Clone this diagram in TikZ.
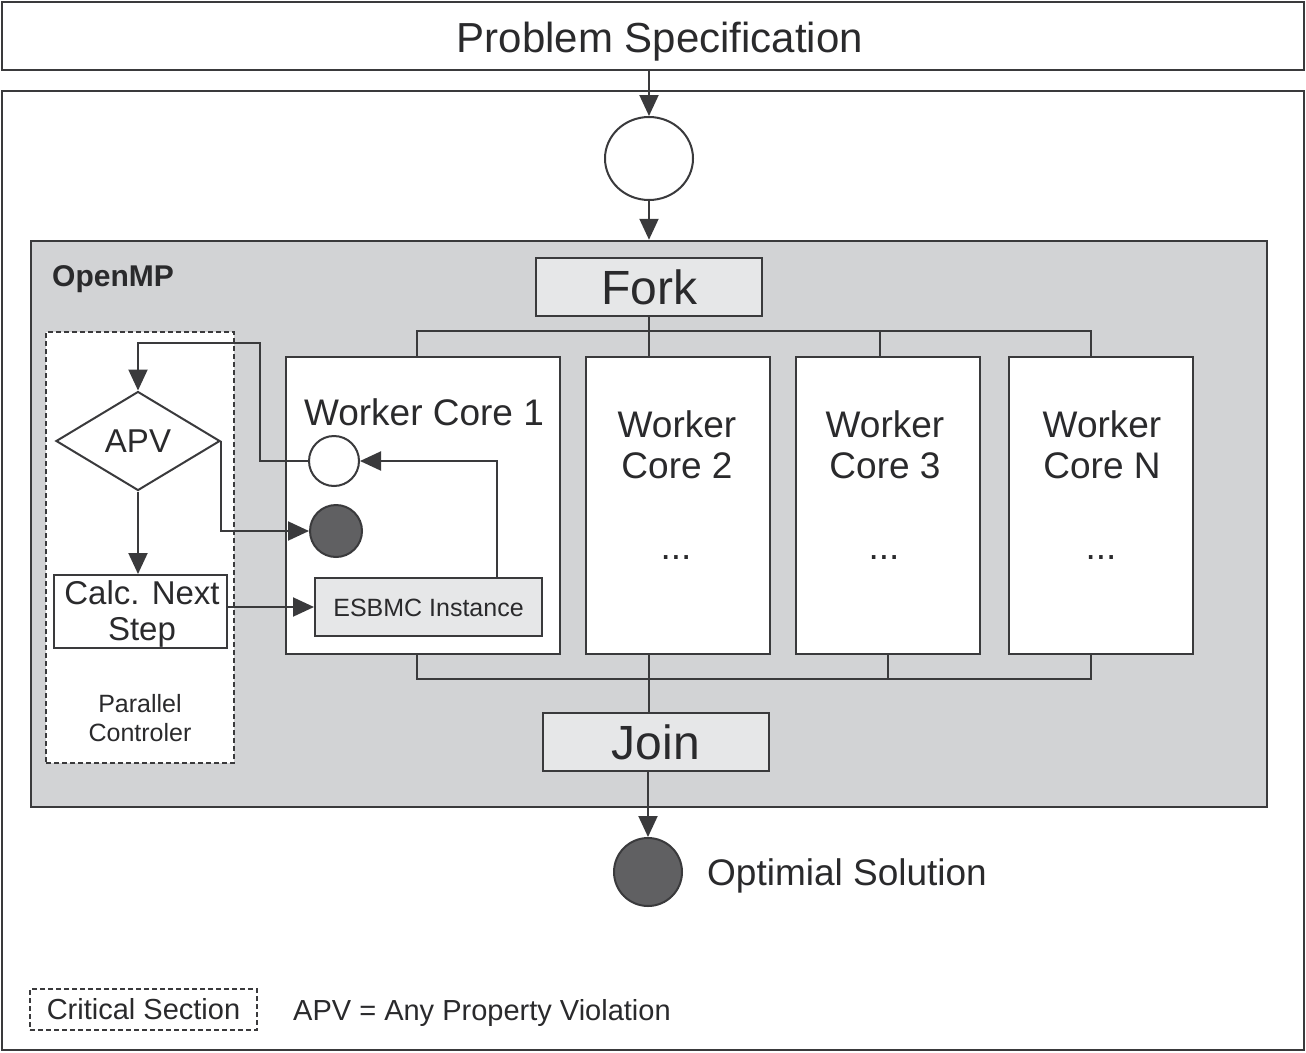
\documentclass[tikz,border=0pt]{standalone}
\usepackage{fontspec}
\setmainfont{Liberation Sans}
\usetikzlibrary{arrows.meta,shapes.geometric}
\definecolor{ln}{HTML}{3A3A3C}
\definecolor{txt}{HTML}{2A2A2C}
\definecolor{omp}{HTML}{D2D3D5}
\definecolor{lite}{HTML}{E6E7E8}
\definecolor{dark}{HTML}{606062}
\tikzset{
  box/.style={draw=ln, line width=2pt, inner sep=0pt, text=txt, align=center},
  frame/.style={draw=ln, line width=2.5pt, inner sep=0pt},
  wire/.style={draw=ln, line width=2pt},
  arr/.style={wire, -{Triangle[length=21pt,width=19pt]}},
  dash box/.style={draw=ln, line width=1.6pt, dash pattern=on 5pt off 3pt, inner sep=0pt, text=txt, align=center},
  lbl/.style={inner sep=0pt, text=txt, align=center},
  capc/.style={text height=#1, text depth=0pt},
  f42/.style={font=\fontsize{42}{46}\selectfont, capc=30pt},
  f48/.style={font=\fontsize{48}{52}\selectfont, capc=34.5pt},
  f37/.style={font=\fontsize{37}{41}\selectfont},
  f33/.style={font=\fontsize{33}{36}\selectfont},
  f29/.style={font=\fontsize{29}{32}\selectfont, capc=20.8pt},
  f25/.style={font=\fontsize{25}{29}\selectfont},
}
\begin{document}
\begin{tikzpicture}[x=1pt,y=-1pt]
\useasboundingbox (0,0) rectangle (1306,1052);
% frames
\node[frame, fill=white, minimum width=1302pt, minimum height=959pt] (main) at (653,570.5) {};
\node[frame, fill=white, minimum width=1302pt, minimum height=68pt] (spec) at (653,36) {};
\node[lbl, f42] (spect) at (660,37) {Problem Specification};
\node[frame, fill=omp, minimum width=1236pt, minimum height=566pt] (omp) at (649,524) {};
\node[lbl, capc=21.5pt, anchor=west, font=\fontsize{30}{34}\selectfont\bfseries] (ompl) at (52,276) {OpenMP};

% start circle
\node[draw=ln, line width=2pt, fill=white, ellipse, minimum width=88pt, minimum height=83pt, inner sep=0pt] (start) at (649,158.5) {};
\draw[arr] (spec.south -| start.north) -- (start.north);
\draw[arr] (start.south) -- (start.south |- omp.north);

% fork
\node[box, fill=lite, minimum width=226pt, minimum height=58pt, f48] (fork) at (649,287) {Fork};

% workers
\node[box, fill=white, minimum width=274pt, minimum height=297pt] (w1) at (423,505.5) {};
\node[box, fill=white, minimum width=184pt, minimum height=297pt] (w2) at (678,505.5) {};
\node[box, fill=white, minimum width=184pt, minimum height=297pt] (w3) at (888,505.5) {};
\node[box, fill=white, minimum width=184pt, minimum height=297pt] (wN) at (1101,505.5) {};

\node[lbl, f37] (w1t) at (424,412) {Worker Core 1};
\node[lbl, f37] (w2t) at (677,445) {Worker\\Core 2};
\node[lbl, f37] (w3t) at (885,445) {Worker\\Core 3};
\node[lbl, f37] (wNt) at (1102,445) {Worker\\Core N};
\node[lbl, f37] (w2d) at (676,558) {...};
\node[lbl, f37] (w3d) at (884,558) {...};
\node[lbl, f37] (wNd) at (1101,558) {...};

% fork bus
\coordinate (fbL) at (417,331);
\coordinate (fbR) at (1091,331);
\coordinate (fb3) at (880,331);
\draw[wire] (fork.south) -- (fork.south |- fbL);
\draw[wire] (w1.north -| fbL) -- (fbL) -- (fbR) -- (wN.north -| fbR);
\draw[wire] (fork.south |- fbL) -- (fork.south |- w2.north);
\draw[wire] (fb3) -- (w3.north -| fb3);

% join
\node[box, fill=lite, minimum width=226pt, minimum height=58pt, f48] (join) at (656,742) {Join};
\coordinate (jbL) at (417,679);
\coordinate (jbR) at (1091,679);
\coordinate (jbM) at (649,679);
\coordinate (jb3) at (888,679);
\draw[wire] (w1.south -| jbL) -- (jbL) -- (jbR) -- (wN.south -| jbR);
\draw[wire] (w2.south -| jbM) -- (join.north -| jbM);
\draw[wire] (w3.south -| jb3) -- (jb3);

% optimal solution
\node[draw=ln, line width=2pt, fill=dark, circle, minimum size=68pt, inner sep=0pt] (opt) at (648,872) {};
\draw[arr] (join.south -| opt.north) -- (opt.north);
\node[lbl, f37, capc=26.5pt, anchor=west] (optl) at (707,872) {Optimial Solution};

% parallel controller
\node[dash box, fill=white, minimum width=188pt, minimum height=431pt] (pc) at (140,547.5) {};
\node[lbl, f25] (pct) at (140,718) {Parallel\\Controler};
\node[draw=ln, line width=2pt, fill=white, diamond, minimum width=164pt, minimum height=99pt, inner sep=0pt, text=txt, font=\fontsize{33}{36}\selectfont] (apv) at (138,441) {APV};
\node[box, fill=white, minimum width=173pt, minimum height=73pt] (calc) at (140.5,611.5) {};
\node[lbl, f33] (calct) at (142,614) {Calc. Next\\[0pt]Step};

% inside worker 1
\node[draw=ln, line width=2pt, fill=white, circle, minimum size=50pt, inner sep=0pt] (wc) at (334,461) {};
\node[draw=ln, line width=2pt, fill=dark, circle, minimum size=52pt, inner sep=0pt] (wd) at (336,531) {};
\node[box, fill=lite, minimum width=227pt, minimum height=58pt, f25, capc=18pt] (esb) at (428.5,607) {ESBMC Instance};

% connectors
\coordinate (lp1) at (260,343);
\draw[arr] (wc.west) -| (lp1) -| (apv.north);
\draw[arr] (apv.east) |- (wd.west);
\draw[arr] (apv.south) -- (apv.south |- calc.north);
\draw[arr] (calc.east |- esb.west) -- (esb.west);
\coordinate (eup) at (497,461);
\draw[arr] (esb.north -| eup) -- (eup) -- (wc.east);

% legend
\node[dash box, minimum width=227pt, minimum height=41pt, f29] (crit) at (143.5,1009.5) {Critical Section};
\node[lbl, f29, anchor=west] (apvl) at (293,1010) {APV = Any Property Violation};
\end{tikzpicture}
\end{document}
